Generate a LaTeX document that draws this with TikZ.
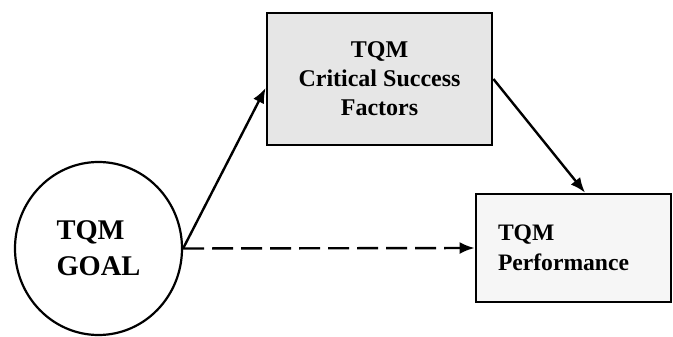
\documentclass[tikz,border=0pt]{standalone}
\usepackage{fontspec}
\setmainfont{Liberation Serif}
\usetikzlibrary{shapes.geometric,arrows.meta}
\definecolor{csfgray}{HTML}{E6E6E6}
\definecolor{perfgray}{HTML}{F6F6F6}
\begin{document}
\begin{tikzpicture}[x=1pt,y=-1pt,
  framebox/.style={draw=black,line width=2.8pt,rectangle,inner sep=0pt},
  link/.style={line width=2.4pt,-{Latex[length=15pt,width=12pt]}},
  dashlink/.style={link,dash pattern=on 21pt off 8pt}]
\useasboundingbox (0,0) rectangle (673,337);
% goal ellipse
\node[draw=black,line width=2.2pt,ellipse,minimum width=167pt,minimum height=173pt,inner sep=0pt,
  align=left,font=\bfseries\fontsize{28.5}{36}\selectfont] (goal) at (98.5,248.5) {TQM\\GOAL};
% critical success factors
\node[framebox,fill=csfgray,minimum width=225pt,minimum height=132pt,align=center,
  font=\bfseries\fontsize{24}{29}\selectfont] (csf) at (379.5,79) {TQM\\Critical Success\\Factors};
% performance
\node[framebox,fill=perfgray,minimum height=108pt,inner xsep=22pt,text width=151pt,align=left,
  font=\bfseries\fontsize{23.6}{30}\selectfont] (perf) at (573.5,248) {TQM\\Performance};
% connectors
\draw[link] (goal.east) -- ([yshift=-9pt]csf.west);
\draw[link] (csf.east) -- ([xshift=11.5pt]perf.north);
\draw[dashlink] (goal.east) -- (perf.west);
\end{tikzpicture}
\end{document}
